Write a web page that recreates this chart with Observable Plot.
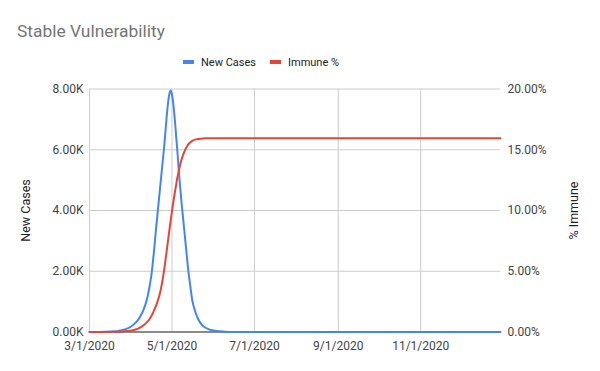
<!DOCTYPE html>
<html>
<head>
<meta charset="utf-8">
<script src="https://cdn.jsdelivr.net/npm/d3@7"></script>
<script src="https://cdn.jsdelivr.net/npm/@observablehq/plot@0.6"></script>
<style>
  body { margin: 0; background: #fff; }
  #wrap { position: relative; width: 600px; height: 371px; font-family: Roboto, "Liberation Sans", Arial, sans-serif; }
  #head { position: relative; height: 75px; }
  .title { position: absolute; left: 17px; top: 22px; font-size: 17.4px; line-height: 18px; color: #757575; white-space: nowrap; }
  .leg { position: absolute; top: 56.5px; font-size: 11px; line-height: 12px; color: #222; white-space: nowrap; }
  .sw { position: absolute; top: 60px; width: 11px; height: 4px; }
  svg { display: block; }
</style>
</head>
<body>
<div id="wrap"><div id="head"></div></div>
<script>
const chartTitle = "Stable Vulnerability";
const seriesNames = ["New Cases", "Immune %"];
const axisTitles = ["New Cases", "% Immune"];
const seriesColors = ["#4285F4", "#EA4335"];
const xTickLabels = ["2020-03-01", "2020-05-01", "2020-07-01", "2020-09-01", "2020-11-01"];
const xDomain = ["2020-03-01", "2020-12-30"];
const leftTicks = [0, 2000, 4000, 6000, 8000];
const leftMax = 8000;
const rightMax = 20;

const dates = [
  "2020-03-01","2020-03-07","2020-03-13","2020-03-17","2020-03-21","2020-03-23","2020-03-25","2020-03-27","2020-03-29","2020-03-31",
  "2020-04-02","2020-04-04","2020-04-06","2020-04-08","2020-04-10","2020-04-12","2020-04-13","2020-04-14","2020-04-15","2020-04-16",
  "2020-04-17","2020-04-18","2020-04-19","2020-04-20","2020-04-21","2020-04-22","2020-04-23","2020-04-24","2020-04-25","2020-04-26",
  "2020-04-27","2020-04-28","2020-04-29","2020-04-30","2020-05-01","2020-05-02","2020-05-03","2020-05-04","2020-05-05","2020-05-06",
  "2020-05-07","2020-05-08","2020-05-09","2020-05-10","2020-05-11","2020-05-12","2020-05-13","2020-05-14","2020-05-15","2020-05-16",
  "2020-05-18","2020-05-20","2020-05-22","2020-05-24","2020-05-26","2020-05-28","2020-05-30","2020-06-03","2020-06-09","2020-06-19",
  "2020-06-29","2020-07-29","2020-09-17","2020-11-06","2020-12-30"
];
const newCases = [
  1, 3, 7, 14, 28, 40, 60, 85, 120, 160,
  220, 300, 400, 550, 740, 1000, 1180, 1400, 1650, 1950,
  2350, 2800, 3300, 3750, 4200, 4650, 5100, 5550, 6000, 6500,
  7050, 7500, 7820, 7950, 7820, 7500, 7050, 6500, 5950, 5350,
  4800, 4300, 3850, 3400, 2950, 2500, 2050, 1700, 1350, 1050,
  700, 460, 300, 200, 140, 95, 65, 30, 12, 3,
  1, 0, 0, 0, 0
];
const immunePct = [
  0, 0.002, 0.005, 0.01, 0.02, 0.03, 0.04, 0.06, 0.08, 0.1,
  0.14, 0.2, 0.28, 0.4, 0.55, 0.75, 0.87, 1.0, 1.17, 1.35,
  1.58, 1.85, 2.1, 2.4, 2.75, 3.15, 3.65, 4.25, 4.95, 5.75,
  6.6, 7.45, 8.3, 9.15, 9.95, 10.7, 11.4, 12.05, 12.7, 13.25,
  13.75, 14.15, 14.5, 14.8, 15.05, 15.25, 15.42, 15.55, 15.65, 15.73,
  15.83, 15.88, 15.91, 15.93, 15.94, 15.95, 15.95, 15.95, 15.95, 15.95,
  15.95, 15.95, 15.95, 15.95, 15.95
];

const parse = d3.utcParse("%Y-%m-%d");
const rows = dates.map((d, i) => ({date: parse(d), cases: newCases[i], immune: immunePct[i]}));
const fmtDate = d => `${d.getUTCMonth() + 1}/${d.getUTCDate()}/${d.getUTCFullYear()}`;

// header: title + legend
const head = document.getElementById("head");
const t = document.createElement("div");
t.className = "title"; t.textContent = chartTitle; head.appendChild(t);
const legX = [183, 270];
seriesNames.forEach((n, i) => {
  const s = document.createElement("div");
  s.className = "sw"; s.style.left = legX[i] + "px"; s.style.background = seriesColors[i];
  head.appendChild(s);
  const l = document.createElement("div");
  l.className = "leg"; l.style.left = (legX[i] + 18) + "px"; l.textContent = n;
  head.appendChild(l);
});

const chart = Plot.plot({
  width: 600,
  height: 296,
  marginTop: 13.5,
  marginBottom: 39.5,
  marginLeft: 89,
  marginRight: 100,
  style: {fontFamily: 'Roboto, "Liberation Sans", Arial, sans-serif', fontSize: "12px", color: "#444", background: "#fff"},
  x: {type: "utc", domain: xDomain.map(parse)},
  y: {domain: [0, leftMax]},
  marks: [
    Plot.gridX(xTickLabels.map(parse), {stroke: "#ccc", strokeOpacity: 1}),
    Plot.gridY(leftTicks, {stroke: "#ccc", strokeOpacity: 1}),
    Plot.axisX(xTickLabels.map(parse), {tickSize: 0, tickPadding: 9, tickFormat: fmtDate, label: null}),
    Plot.axisY(leftTicks, {tickSize: 0, tickPadding: 6, tickFormat: d => (d / 1000).toFixed(2) + "K", label: null}),
    Plot.axisY(leftTicks, {anchor: "right", tickSize: 0, tickPadding: 7, tickFormat: d => (d / leftMax * rightMax).toFixed(2) + "%", label: null}),
    Plot.text([axisTitles[0]], {frameAnchor: "left", dx: -64, rotate: -90, textAnchor: "middle", fill: "#222", fontSize: 12.5}),
    Plot.text([axisTitles[1]], {frameAnchor: "right", dx: 73, rotate: -90, textAnchor: "middle", fill: "#222", fontSize: 12.5}),
    Plot.ruleY([0], {stroke: "#333", strokeWidth: 1}),
    Plot.line(rows, {x: "date", y: "cases", stroke: seriesColors[0], strokeWidth: 2, curve: "monotone-x"}),
    Plot.line(rows, {x: "date", y: d => d.immune / rightMax * leftMax, stroke: seriesColors[1], strokeWidth: 2, curve: "monotone-x"})
  ]
});
document.getElementById("wrap").appendChild(chart);
</script>
</body>
</html>
